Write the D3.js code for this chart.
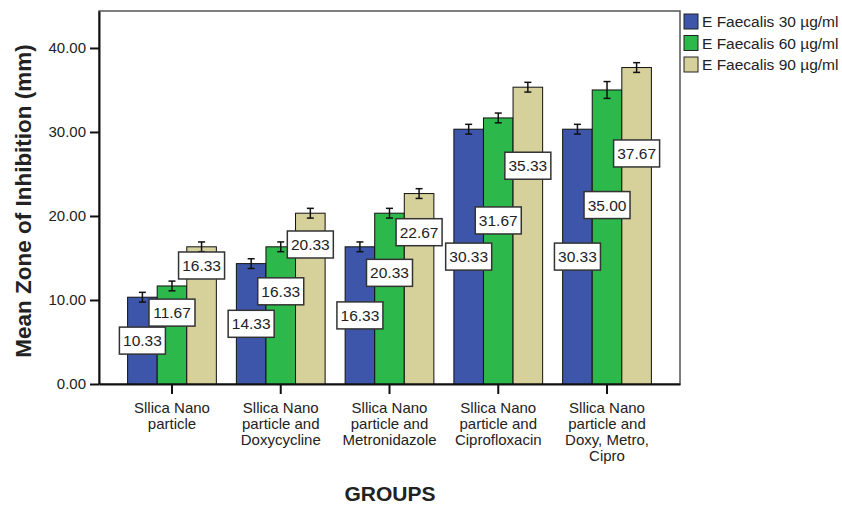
<!DOCTYPE html>
<html lang="en">
<head>
  <meta charset="UTF-8" />
  <title>Mean Zone of Inhibition</title>
  <script src="https://d3js.org/d3.v7.min.js"></script>
  <style>
    body { margin: 0; background: #fff; font-family: "Liberation Sans", Arial, sans-serif; }
    svg text { fill: #222; }
  </style>
</head>
<body>
  <script>
    // chart data
    var groups = [
      ["Sllica Nano", "particle"],
      ["Sllica Nano", "particle and", "Doxycycline"],
      ["Sllica Nano", "particle and", "Metronidazole"],
      ["Sllica Nano", "particle and", "Ciprofloxacin"],
      ["Sllica Nano", "particle and", "Doxy, Metro,", "Cipro"]
    ];
    var seriesNames = ["E Faecalis 30 µg/ml", "E Faecalis 60 µg/ml", "E Faecalis 90 µg/ml"];
    var conc30 = [10.33, 14.33, 16.33, 30.33, 30.33];
    var conc60 = [11.67, 16.33, 20.33, 31.67, 35.00];
    var conc90 = [16.33, 20.33, 22.67, 35.33, 37.67];
    // error bar half-widths (1 SD)
    var err30 = [0.58, 0.58, 0.58, 0.58, 0.58];
    var err60 = [0.58, 0.58, 0.58, 0.58, 1.00];
    var err90 = [0.58, 0.58, 0.58, 0.58, 0.58];
    var yTicks = [0, 10, 20, 30, 40];

    var colors = ["#3d56aa", "#2db84b", "#d6d09b"];
    var series = [conc30, conc60, conc90];
    var errs = [err30, err60, err90];

    var W = 842, H = 508;
    var plotL = 99, plotR = 680, plotT = 11, plotB = 384;

    var svg = d3.select("body").append("svg")
      .attr("width", W).attr("height", H);

    var x0 = d3.scaleBand()
      .domain(d3.range(groups.length))
      .range([plotL, plotR])
      .paddingInner(0.184)
      .paddingOuter(0.263);

    var x1 = d3.scaleBand()
      .domain(d3.range(series.length))
      .range([0, x0.bandwidth()]);

    var y = d3.scaleLinear().domain([0, 44.4]).range([plotB, plotT]);

    // frame
    svg.append("rect")
      .attr("x", plotL).attr("y", plotT)
      .attr("width", plotR - plotL).attr("height", plotB - plotT)
      .attr("fill", "none").attr("stroke", "#555").attr("stroke-width", 1.5);

    // bars
    var rows = [];
    groups.forEach(function (g, gi) {
      series.forEach(function (s, si) {
        rows.push({ g: gi, s: si, v: s[gi], e: errs[si][gi] });
      });
    });

    svg.selectAll(".bar").data(rows).enter().append("rect")
      .attr("class", "bar")
      .attr("x", function (d) { return x0(d.g) + x1(d.s); })
      .attr("y", function (d) { return y(d.v); })
      .attr("width", x1.bandwidth())
      .attr("height", function (d) { return y(0) - y(d.v); })
      .attr("fill", function (d) { return colors[d.s]; })
      .attr("stroke", "#111").attr("stroke-width", 1);

    // error bars
    var eb = svg.selectAll(".err").data(rows).enter().append("g")
      .attr("class", "err")
      .attr("transform", function (d) {
        return "translate(" + (x0(d.g) + x1(d.s) + x1.bandwidth() / 2) + ",0)";
      });
    eb.append("line")
      .attr("y1", function (d) { return y(d.v - d.e); })
      .attr("y2", function (d) { return y(d.v + d.e); })
      .attr("stroke", "#111").attr("stroke-width", 1.5);
    eb.append("line").attr("x1", -3.5).attr("x2", 3.5)
      .attr("y1", function (d) { return y(d.v + d.e); })
      .attr("y2", function (d) { return y(d.v + d.e); })
      .attr("stroke", "#111").attr("stroke-width", 1.5);
    eb.append("line").attr("x1", -3.5).attr("x2", 3.5)
      .attr("y1", function (d) { return y(d.v - d.e); })
      .attr("y2", function (d) { return y(d.v - d.e); })
      .attr("stroke", "#111").attr("stroke-width", 1.5);

    // value labels: staggered up the bars, pushed up if they hit the one before
    var labelBase = [0, 2.05, 3.9];
    var labelSlope = [0.5, 0.55, 0.625];
    var boxH = 27;
    var prevY = {};
    rows.forEach(function (d) {
      var cy = y(labelBase[d.s] + labelSlope[d.s] * d.v);
      if (d.s > 0) cy = Math.min(cy, prevY[d.g] - boxH - 1);
      prevY[d.g] = cy;
      d.ly = cy;
    });

    var lab = svg.selectAll(".lab").data(rows).enter().append("g")
      .attr("class", "lab")
      .attr("transform", function (d) {
        return "translate(" + (x0(d.g) + x1(d.s) + x1.bandwidth() / 2) + "," + d.ly + ")";
      });
    lab.append("rect")
      .attr("x", -23).attr("y", -boxH / 2)
      .attr("width", 46).attr("height", boxH)
      .attr("fill", "#fff").attr("stroke", "#333").attr("stroke-width", 1.5);
    lab.append("text")
      .attr("text-anchor", "middle").attr("dy", "0.36em")
      .style("font-size", "15.5px")
      .text(function (d) { return d.v.toFixed(2); });

    // y axis
    var yAxis = svg.append("g")
      .attr("transform", "translate(" + plotL + ",0)")
      .call(d3.axisLeft(y).tickValues(yTicks).tickFormat(d3.format(".2f"))
        .tickSize(9).tickSizeOuter(0).tickPadding(4));
    yAxis.select(".domain").attr("stroke", "#111").attr("stroke-width", 2);
    yAxis.selectAll(".tick line").attr("stroke", "#111").attr("stroke-width", 2);
    yAxis.selectAll(".tick text").style("font-size", "15px").attr("fill", "#222")
      .style("font-family", "'Liberation Sans', Arial, sans-serif");

    // x axis
    var xAxis = svg.append("g")
      .attr("transform", "translate(0," + plotB + ")")
      .call(d3.axisBottom(x0).tickSize(10).tickSizeOuter(0).tickFormat(""));
    xAxis.select(".domain").attr("stroke", "#111").attr("stroke-width", 2);
    xAxis.selectAll(".tick line").attr("stroke", "#111").attr("stroke-width", 2);

    groups.forEach(function (lines, gi) {
      var cx = x0(gi) + x0.bandwidth() / 2;
      var t = svg.append("text")
        .attr("x", cx)
        .attr("y", 413)
        .attr("text-anchor", "middle")
        .style("font-size", "15px");
      lines.forEach(function (ln, li) {
        t.append("tspan")
          .attr("x", cx)
          .attr("dy", li === 0 ? 0 : 16)
          .text(ln);
      });
    });

    // axis titles
    svg.append("text")
      .attr("transform", "translate(31,201) rotate(-90)")
      .attr("text-anchor", "middle")
      .style("font-size", "22.5px").style("font-weight", "bold")
      .text("Mean Zone of Inhibition (mm)");

    svg.append("text")
      .attr("x", 390).attr("y", 501)
      .attr("text-anchor", "middle")
      .style("font-size", "21px").style("font-weight", "bold")
      .text("GROUPS");

    // legend
    var leg = svg.selectAll(".leg").data(seriesNames).enter().append("g")
      .attr("class", "leg")
      .attr("transform", function (d, i) { return "translate(684," + (14 + i * 21.5) + ")"; });
    leg.append("rect")
      .attr("width", 14).attr("height", 15)
      .attr("fill", function (d, i) { return colors[i]; })
      .attr("stroke", "#222").attr("stroke-width", 1);
    leg.append("text")
      .attr("x", 18).attr("y", 7.5).attr("dy", "0.36em")
      .style("font-size", "15.5px")
      .text(function (d) { return d; });
  </script>
</body>
</html>
